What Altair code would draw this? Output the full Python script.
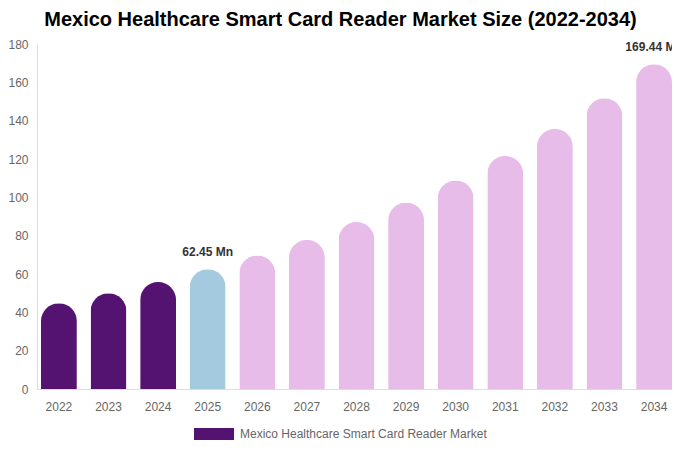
import altair as alt
import pandas as pd

years = ["2022", "2023", "2024", "2025", "2026", "2027", "2028",
         "2029", "2030", "2031", "2032", "2033", "2034"]
values = [44.8, 50.0, 55.8, 62.45, 69.7, 77.8, 87.1, 97.3, 108.8,
          121.6, 135.7, 151.7, 169.44]
periods = ["hist", "hist", "hist", "base", "fc", "fc", "fc", "fc",
           "fc", "fc", "fc", "fc", "fc"]
labels = ["", "", "", "62.45 Mn", "", "", "", "", "", "", "", "", "169.44 Mn"]
series_name = "Mexico Healthcare Smart Card Reader Market"

df = pd.DataFrame({"year": years, "value": values, "period": periods,
                   "label": labels, "series": series_name})

FONT = "Liberation Sans"

x = alt.X("year:N", title=None, sort=years,
          scale=alt.Scale(paddingInner=0.276, paddingOuter=0.04, align=1),
          axis=alt.Axis(labelAngle=0, labelPadding=12))
y = alt.Y("value:Q", title=None,
          scale=alt.Scale(domain=[0, 180], nice=False),
          axis=alt.Axis(values=list(range(0, 181, 20)), grid=False,
                        labelPadding=9))

bars = alt.Chart(df).mark_bar(cornerRadiusTopLeft=18,
                              cornerRadiusTopRight=18).encode(
    x=x,
    y=y,
    fill=alt.Fill("period:N", legend=None,
                  scale=alt.Scale(domain=["hist", "base", "fc"],
                                  range=["#541370", "#a3cadf", "#e8bce8"])),
    opacity=alt.Opacity("series:N",
                        scale=alt.Scale(range=[1, 1]),
                        legend=alt.Legend(
                            title=None, orient="none", legendX=157,
                            legendY=370,
                            symbolType="M-1,-0.3L1,-0.3L1,0.3L-1,0.3Z",
                            symbolSize=1600, symbolFillColor="#541370",
                            symbolStrokeWidth=0, symbolOpacity=1,
                            labelFont=FONT, labelFontSize=12,
                            labelLimit=400,
                            labelColor="#666666", labelOffset=6)),
)

text = alt.Chart(df).transform_filter(alt.datum.label != "").mark_text(
    dy=-10, baseline="bottom", fontWeight="bold", fontSize=12, font=FONT,
    color="#333333"
).encode(x=x, y=y, text="label:N")

chart = alt.layer(bars, text).properties(
    width=635, height=345,
    autosize=alt.AutoSizeParams(type="none"),
    padding={"left": 29, "top": 36, "right": 0, "bottom": 53},
    title=alt.TitleParams(
        "Mexico Healthcare Smart Card Reader Market Size (2022-2034)",
        fontSize=20, fontWeight="bold", font=FONT, color="#000000",
        offset=8, dx=-14, anchor="middle"),
).configure_view(stroke=None).configure_axis(
    ticks=False, labelOverlap=False, grid=False, domainColor="#dddddd",
    labelColor="#666666", labelFontSize=12, labelFont=FONT)

chart.save("out.html", embed_options={"renderer": "svg", "actions": False})
